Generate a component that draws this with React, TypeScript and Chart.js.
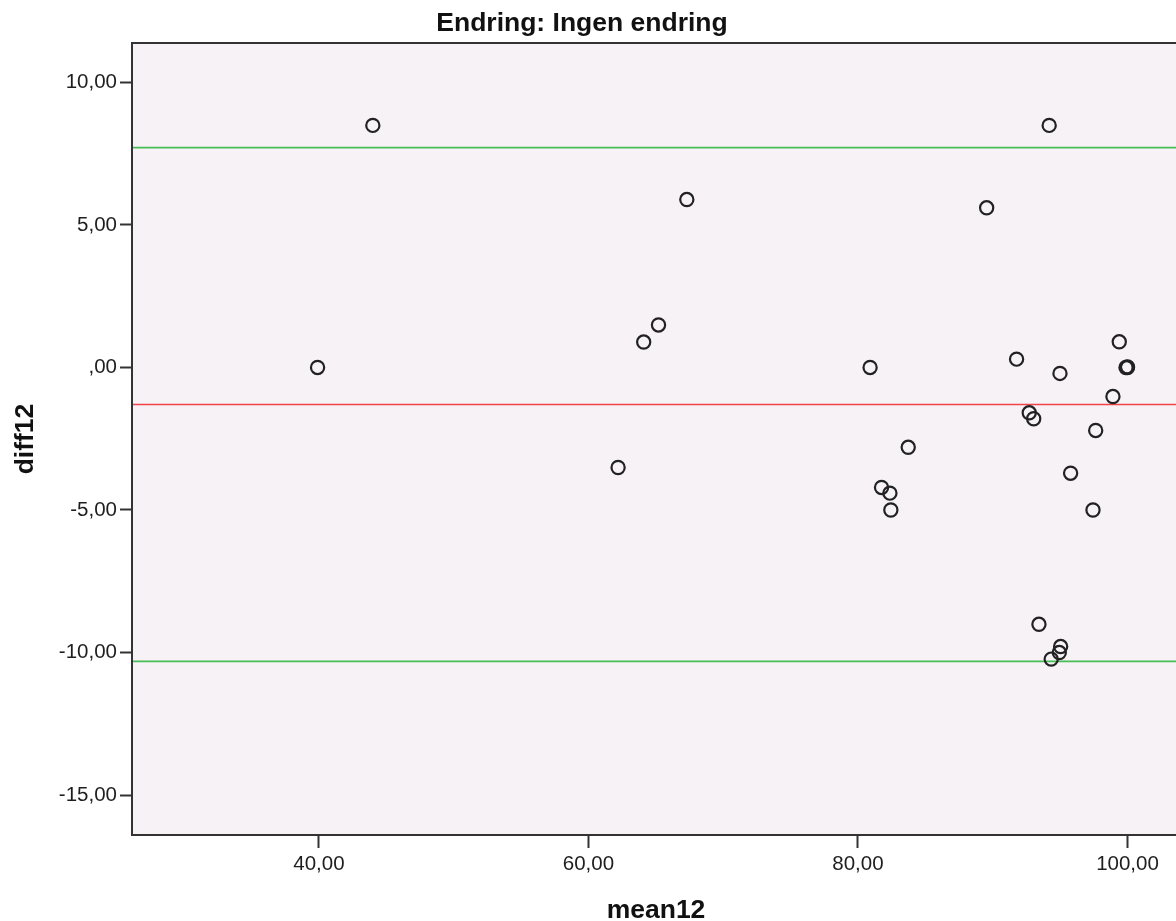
import React, { useEffect, useRef } from 'react';
import { Chart, registerables } from 'chart.js';

Chart.register(...registerables);

// ---------- data ----------
const chartTitle = 'Endring: Ingen endring';
const xAxisTitle = 'mean12';
const yAxisTitle = 'diff12';

const meanValues = [
  39.9, 44.0, 62.2, 64.1, 65.2, 67.3, 80.9, 81.75, 82.37, 82.44, 83.73, 89.55,
  91.77, 92.71, 93.04, 93.43, 94.19, 94.34, 94.94, 95.04, 94.99, 95.78, 97.44,
  97.64, 98.92, 99.39, 99.89, 100.0, 100.0,
];
const diffValues = [
  0.0, 8.49, -3.51, 0.89, 1.49, 5.89, 0.0, -4.21, -4.41, -5.0, -2.8, 5.6,
  0.29, -1.59, -1.8, -9.01, 8.49, -10.23, -10.0, -9.79, -0.21, -3.71, -5.0,
  -2.21, -1.02, 0.9, 0.0, 0.0, 0.02,
];

const meanDiffLine = -1.3;
const upperLimitLine = 7.71;
const lowerLimitLine = -10.31;

const xTickValues = [40, 60, 80, 100];
const xTickLabels = ['40,00', '60,00', '80,00', '100,00'];
const yTickValues = [-15, -10, -5, 0, 5, 10];
const yTickLabels = ['-15,00', '-10,00', '-5,00', ',00', '5,00', '10,00'];

const xMin = 26.13;
const xMax = 103.6;
const yMin = -16.4;
const yMax = 11.38;

// ---------- style ----------
const FONT = "'Liberation Sans', Arial, sans-serif";
const PLOT_BG = '#F6F2F6';
const FRAME = '#333333';
const TEXT = '#1e1e1e';

const spssPlugin = {
  id: 'spssPlugin',
  beforeDraw(chart: any) {
    const { ctx, chartArea: a } = chart;
    ctx.save();
    ctx.fillStyle = '#ffffff';
    ctx.fillRect(0, 0, chart.width, chart.height);
    ctx.fillStyle = PLOT_BG;
    ctx.fillRect(a.left, a.top, a.right - a.left + 4, a.bottom - a.top);
    ctx.restore();
  },
  beforeDatasetsDraw(chart: any) {
    const { ctx, chartArea: a, scales } = chart;
    const y = scales.y;
    const lines = [
      { v: upperLimitLine, c: '#47BD55' },
      { v: meanDiffLine, c: '#F0444A' },
      { v: lowerLimitLine, c: '#47BD55' },
    ];
    ctx.save();
    ctx.lineWidth = 1.6;
    lines.forEach((l) => {
      const py = y.getPixelForValue(l.v);
      ctx.strokeStyle = l.c;
      ctx.beginPath();
      ctx.moveTo(a.left, py);
      ctx.lineTo(a.right + 4, py);
      ctx.stroke();
    });
    ctx.restore();
  },
  afterDraw(chart: any) {
    const { ctx, chartArea: a } = chart;
    ctx.save();
    // frame (right side lies outside the picture)
    ctx.strokeStyle = FRAME;
    ctx.lineWidth = 2;
    ctx.beginPath();
    ctx.moveTo(a.right + 4, a.top);
    ctx.lineTo(a.left, a.top);
    ctx.lineTo(a.left, a.bottom);
    ctx.lineTo(a.right + 4, a.bottom);
    ctx.stroke();

    ctx.fillStyle = '#111111';
    ctx.font = `bold 26.5px ${FONT}`;
    ctx.textBaseline = 'alphabetic';
    ctx.textAlign = 'center';
    ctx.fillText(chartTitle, 582, 30.7);
    ctx.fillText(xAxisTitle, 656, 918);

    ctx.translate(33.3, (a.top + a.bottom) / 2);
    ctx.rotate(-Math.PI / 2);
    ctx.fillText(yAxisTitle, 0, 0);
    ctx.restore();
  },
};

export default function App() {
  const canvasRef = useRef<HTMLCanvasElement>(null);

  useEffect(() => {
    if (!canvasRef.current) return;
    const points = meanValues.map((m, i) => ({ x: m, y: diffValues[i] }));
    const chart = new Chart(canvasRef.current, {
      type: 'scatter',
      data: {
        datasets: [
          {
            data: points,
            backgroundColor: 'rgba(0,0,0,0)',
            borderColor: '#222222',
            borderWidth: 2.2,
            pointRadius: 6.6,
            pointHoverRadius: 6.6,
            pointStyle: 'circle',
          },
        ],
      },
      options: {
        responsive: false,
        animation: false,
        devicePixelRatio: 1,
        events: [],
        layout: {
          autoPadding: false,
          padding: { top: 43, left: 0, right: 0, bottom: 0 },
        },
        plugins: {
          legend: { display: false },
          tooltip: { enabled: false },
          title: { display: false },
        },
        scales: {
          x: {
            type: 'linear',
            min: xMin,
            max: xMax,
            afterBuildTicks: (scale: any) => {
              scale.ticks = xTickValues.map((value) => ({ value }));
            },
            afterFit: (scale: any) => {
              scale.height = 86;
              scale.paddingLeft = 0;
              scale.paddingRight = 0;
            },
            border: { display: false },
            grid: {
              display: true,
              drawOnChartArea: false,
              drawTicks: true,
              tickLength: 13,
              tickWidth: 2,
              tickColor: FRAME,
            },
            ticks: {
              autoSkip: false,
              maxRotation: 0,
              padding: 4,
              color: TEXT,
              font: { family: FONT, size: 20.5 },
              callback: (_v: any, i: number) => xTickLabels[i],
            },
          },
          y: {
            type: 'linear',
            min: yMin,
            max: yMax,
            afterBuildTicks: (scale: any) => {
              scale.ticks = yTickValues.map((value) => ({ value }));
            },
            afterFit: (scale: any) => {
              scale.width = 132;
              scale.paddingTop = 0;
              scale.paddingBottom = 0;
            },
            border: { display: false },
            grid: {
              display: true,
              drawOnChartArea: false,
              drawTicks: true,
              tickLength: 12,
              tickWidth: 2,
              tickColor: FRAME,
            },
            ticks: {
              autoSkip: false,
              padding: 3,
              color: TEXT,
              font: { family: FONT, size: 20.5 },
              callback: (_v: any, i: number) => yTickLabels[i],
            },
          },
        },
      },
      plugins: [spssPlugin],
    });
    return () => chart.destroy();
  }, []);

  return (
    <div
      style={{
        position: 'absolute',
        left: 0,
        top: 0,
        width: 1176,
        height: 921,
        background: '#ffffff',
      }}
    >
      <canvas
        ref={canvasRef}
        width={1176}
        height={921}
        style={{ display: 'block', width: 1176, height: 921 }}
      />
    </div>
  );
}
